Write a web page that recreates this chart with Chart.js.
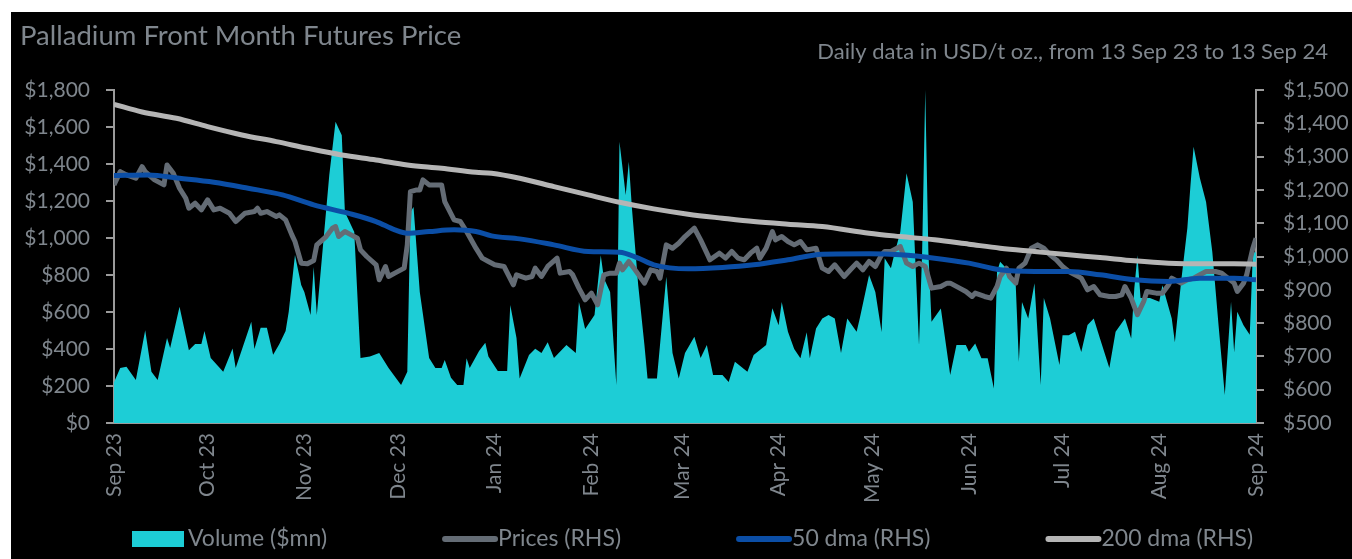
<!DOCTYPE html>
<html>
<head>
<meta charset="utf-8">
<script src="https://cdn.jsdelivr.net/npm/chart.js@4.4.1/dist/chart.umd.min.js"></script>
<style>
  body { margin: 0; background: #fff; }
  #wrap { position: absolute; left: 11px; top: 12px; width: 1341px; height: 547px; background: #000; }
</style>
</head>
<body>
<div id="wrap"><canvas id="palladium"></canvas></div>
<script>
// x values are days counted from 13 Sep 23
const tickDays = [0, 30, 61, 91, 122, 153, 182, 213, 243, 274, 304, 335, 366];
const tickLabels = ['Sep 23', 'Oct 23', 'Nov 23', 'Dec 23', 'Jan 24', 'Feb 24', 'Mar 24',
    'Apr 24', 'May 24', 'Jun 24', 'Jul 24', 'Aug 24', 'Sep 24'];

const volumeDays = [0, 2, 4, 7, 10, 12, 14, 17, 18, 21, 24, 26, 28, 29, 31, 35, 38, 39, 44, 45,
    47, 49, 51, 53, 55, 56, 58, 60, 61, 63, 64, 65, 67, 69, 71, 73, 74, 77, 79, 82,
    85, 88, 92, 94, 95, 96, 98, 101, 103, 105, 106, 108, 110, 112, 113, 114, 117, 119, 120, 123,
    126, 127, 129, 130, 133, 135, 137, 139, 141, 145, 148, 149, 151, 154, 156, 157, 159, 161, 162, 164,
    165, 166, 168, 170, 171, 174, 177, 179, 181, 183, 186, 188, 190, 192, 195, 197, 199, 201, 203, 205,
    209, 211, 213, 214, 216, 218, 220, 222, 223, 225, 227, 229, 231, 233, 235, 238, 239, 242, 244, 246,
    247, 249, 250, 252, 254, 256, 258, 259, 260, 261, 262, 265, 268, 270, 273, 274, 276, 278, 280, 282,
    283, 284, 287, 289, 290, 291, 293, 295, 297, 298, 300, 303, 304, 306, 308, 310, 312, 314, 316, 319,
    321, 324, 326, 327, 328, 329, 332, 335, 336, 339, 340, 342, 344, 345, 346, 348, 350, 352, 354, 356,
    358, 359, 360, 362, 364, 365, 366];
const volumeValues = [220, 297, 304, 232, 502, 277, 233, 459, 406, 628, 393, 427, 427, 497, 351, 277, 403, 297, 547, 400,
    515, 515, 369, 427, 497, 601, 908, 746, 708, 584, 843, 584, 962, 1340, 1628, 1556, 1141, 1032, 351, 360,
    378, 297, 205, 277, 1141, 1168, 708, 351, 297, 297, 340, 245, 205, 205, 350, 297, 389, 434, 360, 281,
    281, 638, 459, 241, 368, 401, 378, 437, 351, 421, 378, 654, 508, 584, 907, 783, 708, 205, 1520, 1232,
    1412, 1160, 746, 421, 241, 241, 790, 378, 241, 378, 466, 351, 421, 259, 259, 221, 331, 304, 277, 368,
    421, 620, 529, 654, 493, 400, 350, 490, 350, 511, 565, 584, 565, 378, 565, 493, 565, 800, 708, 492,
    890, 836, 907, 1032, 1350, 1195, 421, 925, 1800, 925, 547, 619, 259, 421, 421, 385, 430, 350, 350, 187,
    817, 871, 817, 745, 331, 654, 565, 755, 205, 676, 565, 313, 475, 475, 493, 384, 530, 565, 457, 297,
    493, 565, 457, 729, 907, 676, 676, 655, 745, 565, 437, 763, 1054, 1285, 1493, 1324, 1195, 925, 529, 151,
    655, 383, 601, 529, 477, 923, 923];

const priceDays = [0, 2, 4, 7, 9, 10, 13, 16, 17, 19, 21, 23, 24, 26, 28, 30, 32, 34, 37, 39,
    42, 45, 46, 47, 49, 52, 53, 55, 57, 58, 60, 62, 64, 65, 68, 70, 71, 72, 74, 76,
    78, 79, 81, 84, 85, 87, 88, 90, 93, 94, 95, 97, 98, 99, 101, 104, 105, 106, 109, 111,
    113, 116, 118, 120, 122, 125, 128, 129, 132, 134, 135, 137, 139, 142, 143, 146, 147, 149, 151, 153,
    155, 157, 159, 161, 162, 163, 165, 167, 170, 172, 174, 175, 177, 179, 181, 183, 186, 188, 190, 191,
    194, 196, 198, 200, 202, 204, 206, 207, 209, 211, 212, 214, 216, 218, 220, 222, 225, 227, 229, 231,
    234, 236, 238, 240, 242, 244, 246, 247, 249, 252, 254, 256, 258, 260, 262, 265, 267, 268, 271, 273,
    275, 276, 279, 281, 283, 284, 286, 287, 289, 290, 292, 294, 296, 298, 300, 302, 304, 306, 308, 310,
    312, 314, 316, 319, 321, 323, 324, 326, 328, 330, 331, 334, 336, 338, 339, 342, 344, 346, 348, 350,
    353, 355, 357, 359, 360, 362, 363, 365, 366];
const priceValues = [1215, 1255, 1245, 1235, 1270, 1255, 1230, 1215, 1275, 1250, 1205, 1175, 1145, 1160, 1140, 1170, 1140, 1145, 1130, 1105,
    1130, 1135, 1145, 1130, 1135, 1120, 1125, 1110, 1065, 1045, 980, 978, 988, 1035, 1060, 1085, 1090, 1060, 1075, 1065,
    1055, 1020, 1000, 975, 930, 970, 940, 950, 965, 1035, 1195, 1200, 1200, 1230, 1215, 1215, 1215, 1165, 1110, 1105,
    1075, 1025, 995, 985, 975, 970, 915, 945, 935, 940, 965, 940, 970, 995, 950, 955, 945, 905, 870, 890,
    855, 945, 950, 950, 980, 960, 985, 960, 920, 960, 955, 935, 1035, 1025, 1040, 1060, 1085, 1050, 1010, 990,
    1010, 995, 1015, 995, 990, 1010, 1025, 995, 1025, 1075, 1050, 1060, 1045, 1035, 1045, 1020, 1025, 965, 955, 975,
    940, 960, 980, 960, 985, 970, 1005, 1015, 1015, 1030, 980, 970, 980, 970, 905, 910, 920, 920, 905, 895,
    880, 890, 880, 875, 910, 940, 965, 940, 920, 965, 980, 1025, 1035, 1025, 1005, 990, 970, 955, 945, 935,
    900, 910, 885, 880, 880, 885, 910, 875, 825, 865, 895, 890, 890, 915, 935, 920, 930, 935, 945, 955,
    955, 950, 935, 920, 895, 920, 945, 1025, 1055];

const dma50Days = [0, 11, 21, 32, 43, 54, 64, 75, 84, 90, 94, 101, 109, 116, 121, 130, 141, 152, 162, 168,
    173, 184, 195, 205, 216, 227, 242, 252, 263, 274, 284, 295, 306, 316, 327, 338, 348, 359, 366];
const dma50Values = [1243, 1245, 1235, 1223, 1205, 1185, 1155, 1130, 1105, 1080, 1070, 1075, 1080, 1075, 1062, 1053, 1035, 1015, 1013, 995,
    975, 963, 967, 975, 990, 1007, 1008, 1005, 995, 980, 960, 955, 955, 945, 930, 925, 935, 935, 930];

const dma200Days = [0, 9, 20, 30, 41, 52, 62, 73, 84, 94, 105, 116, 121, 130, 141, 152, 162, 173, 184, 195,
    205, 216, 227, 242, 252, 263, 274, 284, 295, 306, 316, 327, 338, 348, 359, 366];
const dma200Values = [1457, 1434, 1415, 1390, 1365, 1345, 1325, 1305, 1290, 1275, 1265, 1253, 1250, 1235, 1210, 1185, 1163, 1143, 1127, 1115,
    1105, 1097, 1090, 1070, 1060, 1050, 1037, 1025, 1015, 1005, 997, 987, 980, 978, 978, 977];

const titleText = 'Palladium Front Month Futures Price';
const subtitleText = 'Daily data in USD/t oz., from 13 Sep 23 to 13 Sep 24';

const textColor = '#7f868d';
const axisColor = '#9b9b9b';
const fontName = 'Lato';

function pairs(days, vals) {
    return days.map((d, i) => ({ x: d, y: vals[i] }));
}

// title + subtitle, drawn at fixed spots
const headerPlugin = {
    id: 'header',
    afterDraw(chart) {
        const ctx = chart.ctx;
        ctx.save();
        ctx.fillStyle = textColor;
        ctx.textBaseline = 'middle';
        ctx.font = '27.5px ' + fontName;
        ctx.textAlign = 'left';
        ctx.fillText(titleText, 9, 24);
        ctx.font = '22px ' + fontName;
        ctx.textAlign = 'right';
        ctx.fillText(subtitleText, 1317, 40);
        ctx.restore();
    }
};

// legend row along the bottom
const legendPlugin = {
    id: 'bottomLegend',
    afterDraw(chart) {
        const ctx = chart.ctx;
        let x = 121;
        const y = 527;
        ctx.save();
        ctx.font = '23px ' + fontName;
        ctx.textBaseline = 'middle';
        ctx.textAlign = 'left';
        chart.data.datasets.forEach(ds => {
            if (ds.fill) {
                ctx.fillStyle = ds.backgroundColor;
                ctx.fillRect(x, y - 8, 52, 16);
            } else {
                ctx.strokeStyle = ds.borderColor;
                ctx.lineWidth = 6;
                ctx.lineCap = 'round';
                ctx.beginPath();
                ctx.moveTo(x + 3, y);
                ctx.lineTo(x + 53, y);
                ctx.stroke();
            }
            ctx.fillStyle = textColor;
            ctx.fillText(ds.label, x + 56, y);
            x += 56 + ctx.measureText(ds.label).width + 115;
        });
        ctx.restore();
    }
};

new Chart(document.getElementById('palladium'), {
    type: 'line',
    data: {
        datasets: [{
            label: 'Volume ($mn)',
            data: pairs(volumeDays, volumeValues),
            yAxisID: 'y',
            fill: 'origin',
            backgroundColor: '#1dcdd6',
            borderWidth: 0,
            pointRadius: 0,
            order: 4
        }, {
            label: 'Prices (RHS)',
            data: pairs(priceDays, priceValues),
            yAxisID: 'y1',
            borderColor: '#646c75',
            borderWidth: 5,
            pointRadius: 0,
            borderJoinStyle: 'round',
            order: 3
        }, {
            label: '50 dma (RHS)',
            data: pairs(dma50Days, dma50Values),
            yAxisID: 'y1',
            borderColor: '#0b4ea6',
            borderWidth: 5,
            pointRadius: 0,
            cubicInterpolationMode: 'monotone',
            order: 2
        }, {
            label: '200 dma (RHS)',
            data: pairs(dma200Days, dma200Values),
            yAxisID: 'y1',
            borderColor: '#b5b5b5',
            borderWidth: 5,
            pointRadius: 0,
            cubicInterpolationMode: 'monotone',
            order: 1
        }]
    },
    options: {
        responsive: true,
        maintainAspectRatio: false,
        animation: false,
        layout: {
            padding: { top: 78, bottom: 36, left: 0, right: 0 }
        },
        plugins: {
            legend: { display: false },
            title: { display: false },
            tooltip: { enabled: false }
        },
        scales: {
            x: {
                type: 'linear',
                min: 0,
                max: 366,
                afterBuildTicks: scale => {
                    scale.ticks = tickDays.map(v => ({ value: v }));
                },
                afterFit: scale => { scale.height = 100; },
                grid: { display: false, drawTicks: false },
                border: { display: true, color: axisColor, width: 2 },
                ticks: {
                    autoSkip: false,
                    minRotation: 90,
                    maxRotation: 90,
                    padding: 10,
                    color: textColor,
                    font: { family: fontName, size: 21 },
                    callback: v => tickLabels[tickDays.indexOf(v)]
                }
            },
            y: {
                position: 'left',
                min: 0,
                max: 1800,
                afterFit: scale => { scale.width = 103; },
                grid: { drawOnChartArea: false, drawTicks: true, tickLength: 8, color: axisColor, lineWidth: 2 },
                border: { display: true, color: axisColor, width: 2 },
                ticks: {
                    stepSize: 200,
                    padding: 16,
                    color: textColor,
                    font: { family: fontName, size: 21 },
                    callback: v => '$' + v.toLocaleString('en-US')
                }
            },
            y1: {
                position: 'right',
                min: 500,
                max: 1500,
                afterFit: scale => { scale.width = 96; },
                grid: { drawOnChartArea: false, drawTicks: true, tickLength: 8, color: axisColor, lineWidth: 2 },
                border: { display: true, color: axisColor, width: 2 },
                ticks: {
                    stepSize: 100,
                    padding: 19,
                    color: textColor,
                    font: { family: fontName, size: 21 },
                    callback: v => '$' + v.toLocaleString('en-US')
                }
            }
        }
    },
    plugins: [headerPlugin, legendPlugin]
});
</script>
</body>
</html>
